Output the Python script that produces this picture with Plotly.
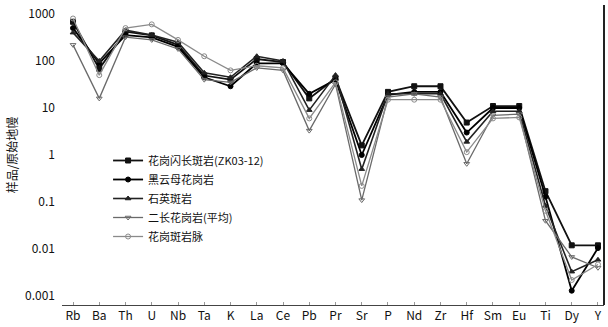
import plotly.graph_objects as go

# Trace elements along the x axis
elements = ["Rb", "Ba", "Th", "U", "Nb", "Ta", "K", "La", "Ce", "Pb", "Pr",
            "Sr", "P", "Nd", "Zr", "Hf", "Sm", "Eu", "Ti", "Dy", "Y"]

# Normalised values for each rock unit
s1 = [680, 68, 420, 350, 220, 49, 40, 110, 95, 16, 43, 1.6, 22, 29, 29, 4.9, 11, 11, 0.17, 0.012, 0.012]
s2 = [500, 89, 355, 316, 200, 45, 29, 89, 89, 20, 40, 1.0, 19, 22, 22, 3.0, 10, 10, 0.13, 0.0013, 0.0105]
s3 = [400, 100, 450, 355, 250, 56, 45, 126, 100, 9.0, 50, 0.5, 20, 20, 20, 1.9, 8.5, 8.5, 0.083, 0.0033, 0.0059]
s4 = [220, 16, 320, 280, 180, 40, 35, 71, 63, 3.3, 32, 0.11, 17, 20, 17, 0.65, 7.0, 7.4, 0.04, 0.0068, 0.004]
s5 = [800, 50, 500, 600, 280, 126, 63, 79, 71, 6.0, 35, 0.22, 15, 15, 15, 1.15, 6.0, 6.3, 0.065, 0.0022, 0.0047]

names = ["花岗闪长斑岩(ZK03-12)", "黑云母花岗岩", "石英斑岩", "二长花岗岩(平均)", "花岗斑岩脉"]

y_tickvals = [1000, 100, 10, 1, 0.1, 0.01, 0.001]
y_ticktext = ["1000", "100", "10", "1", "0.1", "0.01", "0.001"]

styles = [
    dict(color="#111111", symbol="square", width=1.8),
    dict(color="#000000", symbol="circle", width=1.8),
    dict(color="#222222", symbol="triangle-up", width=1.6),
    dict(color="#6a6a6a", symbol="triangle-down-open", width=1.3),
    dict(color="#8a8a8a", symbol="circle-open", width=1.3),
]

font = "Noto Sans CJK SC, Noto Sans, sans-serif"

fig = go.Figure()
for vals, name, st in zip([s1, s2, s3, s4, s5], names, styles):
    fig.add_trace(go.Scatter(
        x=elements, y=vals, name=name, mode="lines+markers",
        line=dict(color=st["color"], width=st["width"]),
        marker=dict(symbol=st["symbol"], size=5, color=st["color"],
                    line=dict(color=st["color"], width=1)),
    ))

fig.update_layout(
    width=608, height=327,
    margin=dict(l=62, r=4, t=5, b=16),
    paper_bgcolor="white", plot_bgcolor="white",
    font=dict(family=font, size=11, color="#111"),
    showlegend=True,
    legend=dict(x=0.085, y=0.53, xanchor="left", yanchor="top",
                bgcolor="rgba(0,0,0,0)", font=dict(size=11),
                tracegroupgap=0),
)
fig.update_xaxes(
    type="category", range=[-0.42, 20.23],
    showline=True, linecolor="#444", linewidth=1,
    ticks="inside", ticklen=3, tickcolor="#999",
    tickfont=dict(size=12), showgrid=False, ticklabelstandoff=0,
)
fig.update_yaxes(
    type="log", range=[-3.19, 3.19],
    tickvals=y_tickvals, ticktext=y_ticktext,
    showgrid=False, zeroline=False, showline=False,
    tickfont=dict(size=12), ticklabelstandoff=6,
    title=dict(text="样品/原始地幔", font=dict(size=12), standoff=4),
)
# right frame line
fig.add_shape(type="line", xref="paper", yref="paper", x0=1, x1=1, y0=0, y1=1,
              line=dict(color="#222", width=2))

fig.write_html("out.html")
